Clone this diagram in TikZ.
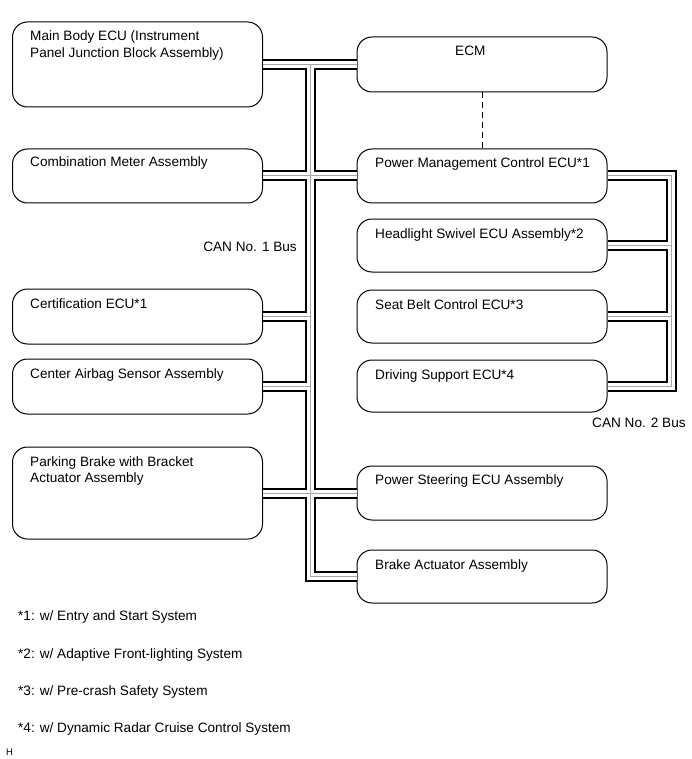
\documentclass[tikz,border=0pt]{standalone}
\usepackage{fontspec}
\setmainfont{Liberation Sans}
\begin{document}
\begin{tikzpicture}[x=1pt,y=-1pt,
  box/.style={draw, line width=1pt, rounded corners=15pt, minimum width=250pt, inner sep=0pt},
  txt/.style={inner sep=0pt, anchor=base west, font=\fontsize{13.6}{16.5}\selectfont, align=left},
  busblack/.style={line width=11pt, black, line join=miter},
  buswhite/.style={line width=7pt, white, line join=miter},
  busgray/.style={line width=1pt, black!35, line join=miter}]
\useasboundingbox (0,0) rectangle (691,759);
% left column boxes
\node[box, minimum height=85pt] (mb) at (137.5,64.5) {};
\node[box, minimum height=54pt] (cm) at (137.5,176) {};
\node[box, minimum height=55pt] (cert) at (137.5,316.5) {};
\node[box, minimum height=55pt] (airbag) at (137.5,386.5) {};
\node[box, minimum height=92pt] (pkb) at (137.5,493) {};
% right column boxes
\node[box, minimum height=55pt] (ecm) at (482,64.5) {};
\node[box, minimum height=54pt] (pmc) at (482,176) {};
\node[box, minimum height=53pt] (hls) at (482,245.5) {};
\node[box, minimum height=53pt] (sbc) at (482,316.5) {};
\node[box, minimum height=52pt] (dsu) at (482,386) {};
\node[box, minimum height=54pt] (pst) at (482,493) {};
\node[box, minimum height=53pt] (bra) at (482,576.5) {};
% texts
\node[txt] (mbt) at (30,57.5) {Main Body ECU (Instrument\\Panel Junction Block Assembly)};
\node[txt] (cmt) at (30,167) {Combination Meter Assembly};
\node[txt] (certt) at (30,308) {Certification ECU*1};
\node[txt] (airbagt) at (30,378) {Center Airbag Sensor Assembly};
\node[txt] (pkbt) at (30,482.5) {Parking Brake with Bracket\\Actuator Assembly};
\node[txt] (ecmt) at (455,56) {ECM};
\node[txt] (pmct) at (375,168) {Power Management Control ECU*1};
\node[txt] (hlst) at (375,238) {Headlight Swivel ECU Assembly*2};
\node[txt] (sbct) at (375,309) {Seat Belt Control ECU*3};
\node[txt] (dsut) at (375,379) {Driving Support ECU*4};
\node[txt] (pstt) at (375,484) {Power Steering ECU Assembly};
\node[txt] (brat) at (375,569) {Brake Actuator Assembly};
\node[txt, anchor=base east] (can1) at (297,251) {CAN No. 1 Bus};
\node[txt] (can2) at (592,427) {CAN No. 2 Bus};
\node[txt] (n1) at (18,620) {*1: w/ Entry and Start System};
\node[txt] (n2) at (18,658) {*2: w/ Adaptive Front-lighting System};
\node[txt] (n3) at (18,695) {*3: w/ Pre-crash Safety System};
\node[txt] (n4) at (18,732) {*4: w/ Dynamic Radar Cruise Control System};
\node[inner sep=0pt, anchor=base west, font=\fontsize{9.5}{11}\selectfont] (hmark) at (6,755) {H};
% bus coordinates
\coordinate (t1) at (310,64.5);
\coordinate (t2) at (t1 |- bra.west);
\coordinate (u1) at (671,176);
\coordinate (u2) at (u1 |- dsu.east);
% buses
\foreach \s in {busblack,buswhite,busgray}{
  \draw[\s] (mb.east) -- (ecm.west);
  \draw[\s] (cm.east) -- (pmc.west);
  \draw[\s] (pkb.east) -- (pst.west);
  \draw[\s] (cert.east) -- (cert.east -| t1);
  \draw[\s] (airbag.east) -- (airbag.east -| t1);
  \draw[\s] (t1) -- (t2) -- (bra.west);
  \draw[\s] (pmc.east) -- (u1) -- (u2) -- (dsu.east);
  \draw[\s] (hls.east) -- (hls.east -| u1);
  \draw[\s] (sbc.east) -- (sbc.east -| u1);
}
% dashed link
\draw[line width=0.8pt, dash pattern=on 6pt off 4pt] (ecm.south) -- (pmc.north);
\end{tikzpicture}
\end{document}
